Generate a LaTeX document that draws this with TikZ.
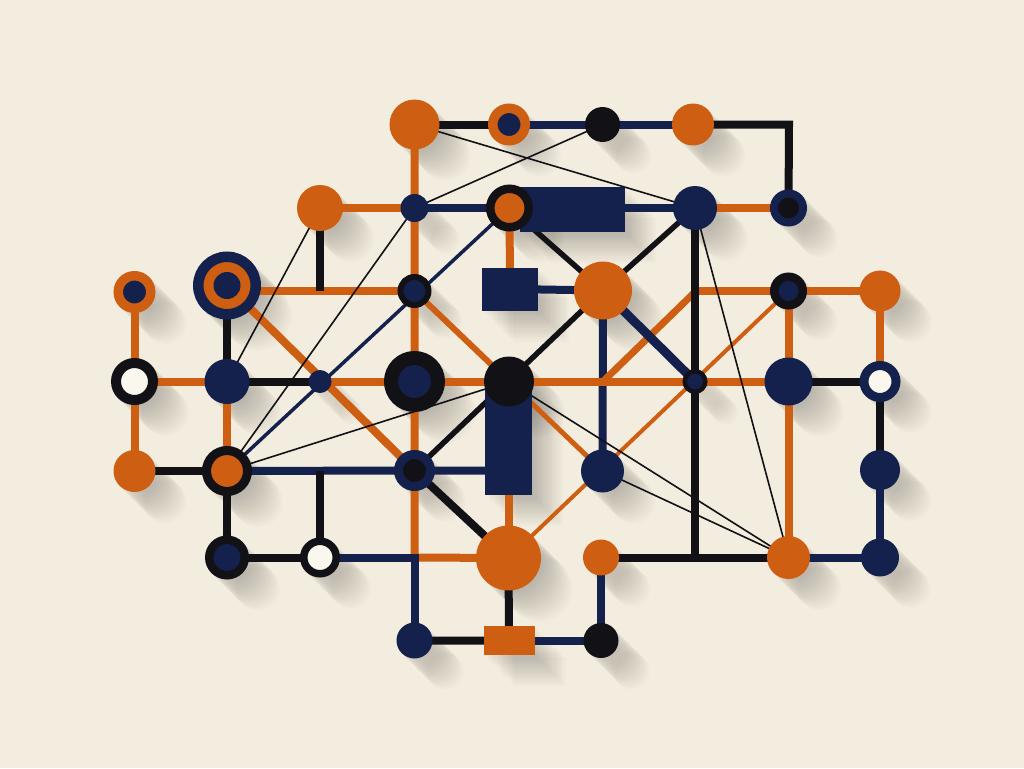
\documentclass[tikz,border=0pt]{standalone}
\usetikzlibrary{calc}
\definecolor{org}{RGB}{206,94,18}
\definecolor{nav}{RGB}{20,33,76}
\definecolor{blk}{RGB}{18,18,22}
\definecolor{paper}{RGB}{243,237,223}
\definecolor{hole}{RGB}{250,247,238}
\pgfdeclarelayer{bglayer}
\pgfdeclarelayer{shade}
\pgfdeclarelayer{edges}
\pgfdeclarelayer{medges}
\pgfdeclarelayer{thin}
\pgfsetlayers{bglayer,shade,edges,medges,thin,main}
\begin{document}
\begin{tikzpicture}[x=1pt,y=-1pt,
  nd/.style={circle,inner sep=0pt,minimum size=#1},
  rc/.style n args={2}{rectangle,inner sep=0pt,minimum width=#1,minimum height=#2},
  thk/.style={line width=8pt},
  thn/.style={line width=1.6pt,blk},
]
\begin{pgfonlayer}{bglayer}
\fill[paper] (0,0) rectangle (1024,768);
\end{pgfonlayer}
\useasboundingbox (0,0) rectangle (1024,768);

% ---------- row A ----------
\node[nd=50,fill=org] (A1) at (414.5,124.5) {};
\node[nd=32.5,fill=nav,draw=org,line width=9.5pt] (A2) at (509,124.5) {};
\node[nd=35,fill=blk] (A3) at (602.5,124.5) {};
\node[nd=42,fill=org] (A4) at (693,124.5) {};
% ---------- row B ----------
\node[nd=46,fill=org] (B1) at (320,208) {};
\node[nd=28,fill=nav] (B2) at (414.5,208) {};
\node[rc={105}{45},fill=nav] (Br) at (572.5,209.5) {};
\node[nd=38.5,fill=org,draw=blk,line width=8.5pt] (B3) at (509.5,208) {};
\node[nd=44,fill=nav] (B5) at (695,208) {};
\node[nd=29,fill=blk,draw=nav,line width=8pt] (B6) at (788.5,208) {};
% ---------- row C ----------
\node[nd=32.5,fill=nav,draw=org,line width=9.5pt] (C1) at (134.5,292) {};
\node[nd=57.5,fill=org,draw=nav,line width=10.5pt] (C2) at (227,285.5) {};
\node[nd=27,fill=nav] (C2c) at (227,285.5) {};
\node[nd=28,fill=nav,draw=blk,line width=6pt] (C4) at (414.5,291) {};
\node[rc={56}{43},fill=nav] (C5r) at (510,289) {};
\node[nd=58,fill=org] (C6) at (603,290.5) {};
\node[nd=28.5,fill=nav,draw=blk,line width=8.5pt] (C8) at (788.5,291) {};
\node[nd=41,fill=org] (C9) at (880,291) {};
% ---------- row D ----------
\node[nd=37,fill=hole,draw=blk,line width=10pt] (D1) at (134.5,381.5) {};
\node[nd=45,fill=nav] (D2) at (227,381.5) {};
\node[nd=23,fill=nav] (D3) at (320,381.5) {};
\node[nd=47,fill=nav,draw=blk,line width=14pt] (D4) at (414.5,381.5) {};
\node[rc={47}{115},fill=nav] (D5r) at (508.5,437.5) {};
\node[nd=50,fill=blk] (D5) at (509,381.5) {};
\node[nd=20.5,fill=nav,draw=blk,line width=4.5pt] (D7) at (695,381.5) {};
\node[nd=48,fill=nav] (D8) at (788.5,381.5) {};
\node[nd=32,fill=hole,draw=nav,line width=9pt] (D9) at (880,381.5) {};
% ---------- row E ----------
\node[nd=42,fill=org] (E1) at (134.5,471) {};
\node[nd=41,fill=org,draw=blk,line width=9pt] (E2) at (227,471) {};
\node[nd=32,fill=blk,draw=nav,line width=9pt] (E4) at (414.5,470.5) {};
\node[nd=43,fill=nav] (E6) at (602.5,471) {};
\node[nd=40,fill=nav] (E9) at (880,470) {};
% ---------- row F ----------
\node[nd=35.5,fill=nav,draw=blk,line width=8.5pt] (F2) at (227,557.5) {};
\node[nd=32.5,fill=hole,draw=blk,line width=7.5pt] (F3) at (320,557.5) {};
\node[nd=65,fill=org] (F5) at (508.5,558) {};
\node[nd=36,fill=org] (F6) at (601,557.5) {};
\node[nd=43,fill=org] (F8) at (788.5,557.5) {};
\node[nd=38,fill=nav] (F9) at (880,557.5) {};
% ---------- row G ----------
\node[nd=36,fill=nav] (G4) at (414.5,640.5) {};
\node[rc={51}{29},fill=org] (G5) at (509,640.5) {};
\node[nd=35,fill=blk] (G6) at (601,640.5) {};

% junction points
\coordinate (K1) at (789,124.5);
\coordinate (J1) at (603,381.5);
\coordinate (J2) at (696,291);
\coordinate (J3) at (414.5,557.5);
\coordinate (J4) at (695,557.5);

% ---------- shadows ----------
\begin{pgfonlayer}{shade}
\foreach \nm in {A1,A2,A3,A4,B1,B2,B3,B5,B6,C1,C2,C4,C6,C8,C9,D1,D2,D3,D4,D5,D7,D8,D9,E1,E2,E4,E6,E9,F2,F3,F5,F6,F8,F9,G4,G6}{
  \foreach \k in {1,...,14}{
    \path[fill=black,fill opacity=0.016] let \p1=(\nm.center), \p2=(\nm.east), \n1={\x2-\x1} in
      ($(\p1)+(\k*2.2,\k*2.2)$) circle [radius=\n1];
  }
}
\foreach \nm in {Br,C5r,D5r,G5}{
  \foreach \k in {1,...,14}{
    \path[fill=black,fill opacity=0.016]
      ($(\nm.north west)+(\k*2.2,\k*2.2)$) rectangle ($(\nm.south east)+(\k*2.2,\k*2.2)$);
  }
}
\end{pgfonlayer}

% ---------- thick connectors ----------
\begin{pgfonlayer}{edges}
% orange
\draw[thk,org] (A1.center) -- (J3) -- (F5.center);
\draw[thk,org] (B1.center) -- (B2.center);
\draw[thk,org] (B5.center) -- (B6.center);
\draw[thk,org] (B3.center) -- (C5r.center);
\draw[thk,org] (C2.center |- C4.center) -- (C4.center);
\draw[thk,org] (J2) -- (C9.center);
\draw[thk,org] (C1.center) -- (E1.center);
\draw[thk,org] (D1.center) -- (D2.center);
\draw[thk,org] (D2.center) -- (E2.center);
\draw[thk,org] (C9.center) -- (D9.center);
\draw[thk,org] (C8.center) -- (F8.center);
\draw[thk,org] (D5r.south) -- (F5.center);
% navy under the orange row
\draw[thk,nav] (C6.center) -- (E6.center);
\draw[thk,org] (D3.center) -- (D8.center);
\draw[thk,org] (C2.center) -- (E4.center);
\draw[line width=7pt,org] (J1) -- (J2);
% navy
\draw[thk,nav] (A2.center) -- (A4.center);
\draw[thk,nav] (B2.center) -- (B5.center);
\draw[thk,nav] (C5r.center) -- (C6.center);
\draw[line width=9pt,nav] (C6.center) -- (D7.center);
\draw[thk,nav] (E2.center) -- (E4.center) -- (E4.center -| D5r.center);
\draw[thk,nav] (F3.center) -- (J3) -- (G4.center);
\draw[thk,nav] (F6.center) -- (G6.center) -- (G5.center);
\draw[thk,nav] (E9.center) -- (F9.center) -- (F8.center);
% black
\draw[thk,blk] (A1.center) -- (A2.center);
\draw[thk,blk] (A4.center) -- (K1) -- (B6.center);
\draw[thk,blk] (B1.center) -- (B1.center |- C4.center);
\draw[thk,blk] (C2.center) -- (D2.center) -- (D3.center);
\draw[thk,blk] (E1.center) -- (E2.center) -- (F2.center) -- (F3.center);
\draw[thk,blk] (F3.center |- E4.center) -- (F3.center);
\draw[thk,blk] (B5.center) -- (J4);
\draw[thk,blk] (F6.center) -- (F8.center);
\draw[thk,blk] (D8.center) -- (D9.center) -- (E9.center);
\draw[thk,blk] (E4.center) -- (F5.center) -- (G5.center) -- (G4.center);
\end{pgfonlayer}

% ---------- medium connectors ----------
\begin{pgfonlayer}{medges}
\draw[line width=5.5pt,blk] (B3.center) -- (C6.center);
\draw[line width=5.5pt,blk] (B5.center) -- (C6.center);
\draw[line width=5.5pt,blk] (C6.center) -- (E4.center);
\draw[line width=6pt,org] (C4.center) -- (D5.center);
\draw[line width=5pt,org] (D5.center) -- (E6.center);
\draw[line width=4pt,org] (C8.center) -- (F5.center);
\draw[line width=3.5pt,nav] (B3.center) -- (E2.center);
\end{pgfonlayer}

% ---------- thin connectors ----------
\begin{pgfonlayer}{thin}
\draw[thn] (A1.center) -- (B5.center);
\draw[thn] (A3.center) -- (B2.center);
\draw[thn] (B1.center) -- (D2.center);
\draw[thn] (B2.center) -- (E2.center);
\draw[thn] (E2.center) -- (D5.center);
\draw[thn] (D5.center) -- (F8.center);
\draw[thn] (E6.center) -- (F8.center);
\draw[thn] (B5.center) -- (F8.center);
\end{pgfonlayer}
\end{tikzpicture}
\end{document}
